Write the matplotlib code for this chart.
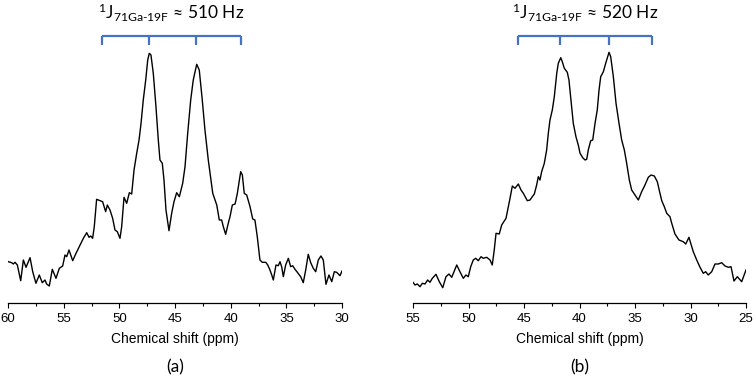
import matplotlib
matplotlib.use("Agg")
import matplotlib.pyplot as plt
from matplotlib.ticker import MultipleLocator
import numpy as np

# spectrum (a): chemical shift (ppm) and intensity (a.u.)
ppm_a = [59.97, 59.67, 59.52, 59.37, 59.16, 58.86, 58.62, 58.38, 58.02, 57.78,
         57.49, 57.19, 56.92, 56.68, 56.53, 56.29, 56.02, 55.69, 55.39, 55.09,
         54.88, 54.73, 54.52, 54.19, 53.89, 53.53, 53.23, 52.93, 52.72, 52.57,
         52.40, 52.25, 52.04, 51.74, 51.50, 51.23, 51.08, 50.84, 50.60, 50.39,
         50.18, 49.94, 49.79, 49.58, 49.34, 49.10, 48.89, 48.68, 48.44, 48.23,
         48.05, 47.85, 47.63, 47.45, 47.31, 47.16, 46.95, 46.71, 46.50, 46.35,
         46.14, 45.99, 45.81, 45.54, 45.30, 45.09, 44.85, 44.61, 44.31, 44.10,
         43.86, 43.59, 43.36, 43.05, 42.82, 42.55, 42.31, 42.01, 41.61, 41.25,
         41.02, 40.81, 40.66, 40.45, 40.21, 40.06, 39.85, 39.60, 39.40, 39.10,
         38.95, 38.78, 38.56, 38.26, 38.02, 37.82, 37.61, 37.37, 37.16, 36.85,
         36.67, 36.47, 36.31, 36.17, 35.93, 35.72, 35.57, 35.42, 35.27, 35.06,
         34.82, 34.61, 34.43, 34.22, 33.98, 33.71, 33.48, 33.26, 33.03, 32.81,
         32.58, 32.36, 32.13, 31.89, 31.68, 31.44, 31.17, 30.92, 30.69, 30.48,
         30.18, 30.00]
int_a = [41.3, 40.3, 39.0, 40.7, 38.0, 22.3, 43.0, 35.7, 45.3, 31.3,
         19.7, 28.0, 20.3, 23.0, 19.0, 17.0, 33.7, 24.7, 34.7, 37.0,
         48.0, 46.3, 53.0, 42.3, 49.7, 58.0, 64.7, 70.3, 65.7, 67.0,
         64.7, 76.3, 103.7, 102.3, 101.3, 91.3, 98.0, 93.0, 84.7, 73.0,
         71.3, 64.7, 76.3, 105.7, 99.7, 110.3, 109.0, 133.0, 149.7, 163.0,
         179.7, 203.0, 223.0, 243.0, 249.7, 248.0, 229.7, 196.3, 163.0, 143.0,
         139.7, 123.0, 93.0, 72.3, 89.7, 101.3, 110.3, 106.3, 119.7, 136.3,
         169.7, 203.0, 223.0, 238.7, 233.0, 203.0, 173.0, 143.0, 109.7, 98.0,
         83.0, 83.0, 76.3, 68.7, 80.0, 86.3, 98.0, 99.0, 109.7, 131.3,
         128.0, 109.7, 108.0, 96.3, 84.0, 83.0, 66.3, 43.0, 40.7, 40.7,
         38.0, 33.0, 28.0, 23.0, 38.0, 37.3, 41.3, 36.3, 26.3, 38.0,
         44.7, 36.3, 37.3, 33.7, 30.3, 26.3, 20.3, 33.0, 48.7, 40.3,
         34.7, 31.3, 43.0, 47.0, 43.0, 18.7, 28.0, 21.3, 31.3, 30.7,
         27.3, 32.0]

# spectrum (b)
ppm_b = [55.00, 54.82, 54.61, 54.37, 54.16, 53.92, 53.68, 53.47, 53.26, 52.93,
         52.63, 52.32, 52.03, 51.76, 51.51, 51.06, 50.77, 50.47, 50.23, 50.02,
         49.80, 49.57, 49.35, 49.12, 48.87, 48.67, 48.36, 48.06, 47.86, 47.68,
         47.52, 47.23, 47.01, 46.62, 46.47, 46.26, 46.05, 45.81, 45.51, 45.27,
         45.06, 44.70, 44.46, 44.25, 44.07, 43.86, 43.71, 43.56, 43.41, 43.17,
         42.96, 42.81, 42.66, 42.45, 42.27, 42.05, 41.91, 41.69, 41.55, 41.37,
         41.10, 40.95, 40.77, 40.56, 40.32, 40.11, 39.95, 39.71, 39.50, 39.35,
         39.21, 38.99, 38.81, 38.60, 38.40, 38.24, 38.09, 37.85, 37.64, 37.34,
         37.19, 36.95, 36.71, 36.44, 36.20, 35.96, 35.75, 35.51, 35.30, 35.06,
         34.70, 34.40, 34.10, 33.80, 33.56, 33.26, 32.99, 32.75, 32.59, 32.36,
         32.14, 31.85, 31.69, 31.40, 31.04, 30.65, 30.43, 30.14, 29.98, 29.75,
         29.44, 29.14, 28.85, 28.63, 28.40, 28.09, 27.79, 27.50, 27.19, 26.89,
         26.59, 26.35, 26.08, 25.78, 25.39, 25.00]
int_b = [20.7, 18.0, 19.0, 16.3, 19.7, 19.0, 23.0, 20.7, 24.7, 28.7,
         21.3, 15.3, 26.3, 29.0, 25.7, 38.0, 31.3, 24.7, 28.0, 26.3,
         36.3, 43.0, 44.7, 42.3, 46.3, 44.7, 45.7, 43.0, 38.0, 53.0,
         69.7, 69.0, 78.0, 84.7, 93.0, 104.7, 117.0, 114.7, 119.0, 113.0,
         109.7, 102.3, 103.0, 106.3, 109.0, 118.0, 126.3, 123.0, 131.3, 139.7,
         153.0, 169.7, 183.0, 193.0, 206.3, 229.7, 239.7, 245.3, 241.3, 234.7,
         230.7, 223.0, 203.0, 179.7, 166.3, 158.0, 149.7, 145.3, 143.0, 143.7,
         153.0, 162.3, 163.0, 179.7, 193.0, 213.0, 226.3, 231.3, 239.7, 250.7,
         246.3, 226.3, 199.7, 179.7, 163.0, 153.0, 139.7, 123.0, 113.0, 109.0,
         103.0, 111.3, 118.0, 125.7, 128.0, 127.0, 121.3, 109.7, 102.3, 96.3,
         89.7, 86.3, 79.7, 69.0, 63.0, 61.3, 59.0, 65.7, 59.7, 51.3,
         43.0, 35.7, 29.7, 31.3, 28.0, 31.3, 39.0, 39.0, 40.3, 37.0,
         35.7, 36.3, 22.0, 26.3, 21.3, 33.0]

# multiplet line positions (ppm) marked by the blue brackets
lines_a = [51.6, 47.3, 43.1, 39.1]
lines_b = [45.5, 41.8, 37.3, 33.5]
titles = ["510", "520"]
panel_tags = ["(a)", "(b)"]
xranges = [(60, 30), (55, 25)]

BLUE = "#4472C4"
plt.rcParams["font.family"] = ["Liberation Sans", "DejaVu Sans"]
plt.rcParams["mathtext.fontset"] = "custom"
plt.rcParams["mathtext.rm"] = "Lato"
plt.rcParams["mathtext.it"] = "Lato"

fig = plt.figure(figsize=(7.56, 3.78), dpi=100)
ax_a = fig.add_axes([8 / 756, 75 / 378, 334 / 756, 303 / 378])
ax_b = fig.add_axes([413 / 756, 75 / 378, 333 / 756, 303 / 378])

spectra = [(ppm_a, int_a, lines_a), (ppm_b, int_b, lines_b)]
for ax, (ppm, inten, lines), hz, tag, xr in zip([ax_a, ax_b], spectra, titles, panel_tags, xranges):
    ax.plot(ppm, inten, color="black", lw=1.0, solid_joinstyle="round")
    ax.set_xlim(*xr)
    ax.set_ylim(0, 303)
    for side in ["top", "right", "left"]:
        ax.spines[side].set_visible(False)
    ax.spines["bottom"].set_linewidth(0.9)
    ax.set_yticks([])
    ax.xaxis.set_major_locator(MultipleLocator(5))
    ax.xaxis.set_minor_locator(MultipleLocator(2.5))
    ax.tick_params(axis="x", which="major", direction="out", length=3.5, width=0.8,
                   labelsize=9.5, pad=3.5)
    ax.tick_params(axis="x", which="minor", direction="out", length=2, width=0.8)
    ax.set_xlabel("Chemical shift (ppm)", fontsize=10, labelpad=5)

    # coupling bracket
    top, bot = 267, 258
    ax.plot([lines[0], lines[-1]], [top, top], color=BLUE, lw=1.6, solid_capstyle="butt")
    ax.vlines(lines, bot, top, color=BLUE, lw=1.6)
    mid = (lines[0] + lines[-1]) / 2
    ax.text(mid, 290, r"$\mathregular{^{1}J_{71Ga\text{-}19F}}$ ≈ " + hz + " Hz",
            ha="center", va="center", fontsize=12.5, family=["Lato", "DejaVu Sans"])
    ax.text(0.5, -0.212, tag, transform=ax.transAxes, ha="center", va="center",
            fontsize=12.5, family=["Lato", "DejaVu Sans"])

fig.savefig("out.png", dpi=100)
